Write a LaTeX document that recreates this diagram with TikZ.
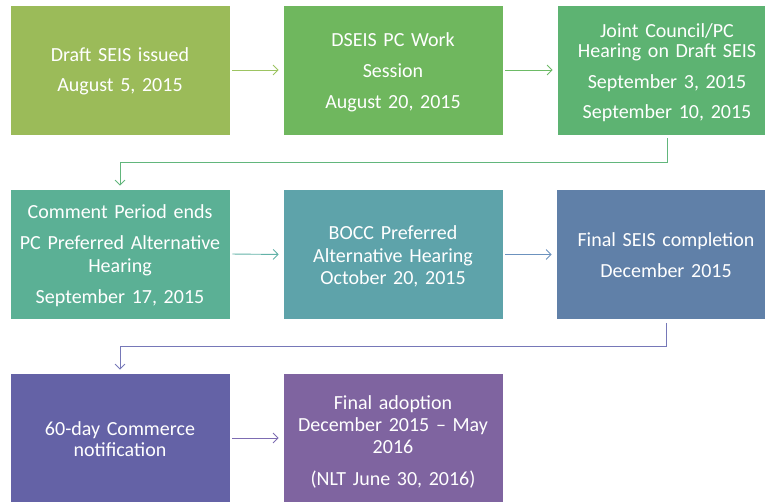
\documentclass[tikz,border=0pt]{standalone}
\usepackage{fontspec}
\setmainfont{Carlito}
\usetikzlibrary{arrows.meta,calc}
\definecolor{cA}{HTML}{9BBB59}
\definecolor{cB}{HTML}{6FB75E}
\definecolor{cC}{HTML}{5DB372}
\definecolor{cD}{HTML}{5BB095}
\definecolor{cE}{HTML}{5EA3AA}
\definecolor{cF}{HTML}{6080A8}
\definecolor{cG}{HTML}{6462A6}
\definecolor{cH}{HTML}{7F64A0}
\definecolor{aA}{HTML}{9DC462}
\definecolor{aB}{HTML}{6DBB66}
\definecolor{aC}{HTML}{62B67C}
\definecolor{aD}{HTML}{62B2A8}
\definecolor{aE}{HTML}{6C92BE}
\definecolor{aF}{HTML}{7678B8}
\definecolor{aG}{HTML}{7D6CB2}
\tikzset{
  box/.style={rectangle, draw=white, line width=0.6pt, minimum width=220pt, minimum height=130pt,
    inner sep=0pt},
  txt/.style={inner sep=0pt, text width=214pt, align=center, text=white,
    font=\fontsize{20}{22}\selectfont},
  conn/.style={line width=0.9pt, -{Straight Barb[length=5pt,width=10pt,line width=0.9pt]}},
}
\begin{document}
\begin{tikzpicture}[x=1pt,y=-1pt]
\useasboundingbox (0,0) rectangle (765,501);
\node[box, fill=cA] (b1) at (120,70) {};
\node[box, fill=cB] (b2) at (393,70) {};
\node[box, fill=cC] (b3) at (667,70) {};
\node[box, fill=cD] (b4) at (120,254) {};
\node[box, fill=cE] (b5) at (393,254.5) {};
\node[box, fill=cF] (b6) at (666,254.5) {};
\node[box, fill=cG] (b7) at (120,438) {};
\node[box, fill=cH] (b8) at (393,438) {};
\node[txt] (t1) at ($(b1.center)+(0,1.5)$) {Draft SEIS issued\\[8pt]August 5, 2015};
\node[txt] (t2) at ($(b2.center)+(0,2.5)$) {DSEIS PC Work\\[9pt]Session\\[9pt]August 20, 2015};
\node[txt] (t3) at ($(b3.center)+(0,3)$) {Joint Council/PC\\[-2pt]Hearing on Draft SEIS\\[9pt]September 3, 2015\\[8pt]September 10, 2015};
\node[txt] (t4) at ($(b4.center)+(0,2)$) {Comment Period ends\\[9pt]PC Preferred Alternative\\[1pt]Hearing\\[9pt]September 17, 2015};
\node[txt] (t5) at ($(b5.center)+(0,2)$) {BOCC Preferred\\[0.5pt]Alternative Hearing\\[0.5pt]October 20, 2015};
\node[txt] (t6) at ($(b6.center)+(0,1)$) {Final SEIS completion\\[9pt]December 2015};
\node[txt] (t7) at ($(b7.center)+(0,1)$) {60-day Commerce\\[-1pt]notification};
\node[txt] (t8) at ($(b8.center)+(0,4)$) {Final adoption\\[0pt]December 2015 -- May\\[0pt]2016\\[10pt](NLT June 30, 2016)};
\draw[conn, aA, shorten <=2pt, shorten >=4pt] (b1.east) -- (b2.west);
\draw[conn, aB, shorten <=2pt, shorten >=4pt] (b2.east) -- (b3.west);
\coordinate (m1) at ($(b3.south)!0.5!(b4.north)$);
\draw[conn, aC, shorten <=3pt, shorten >=3pt] (b3.south) -- (b3.south |- m1) -- (b4.north |- m1) -- (b4.north);
\draw[conn, aD, shorten <=2pt, shorten >=4pt] (b4.east) -- (b5.west);
\draw[conn, aE, shorten <=2pt, shorten >=4pt] (b5.east) -- (b6.west);
\coordinate (m2) at ($(b6.south)!0.5!(b7.north)$);
\draw[conn, aF, shorten <=3pt, shorten >=3pt] (b6.south) -- (b6.south |- m2) -- (b7.north |- m2) -- (b7.north);
\draw[conn, aG, shorten <=2pt, shorten >=4pt] (b7.east) -- (b8.west);
\end{tikzpicture}
\end{document}
